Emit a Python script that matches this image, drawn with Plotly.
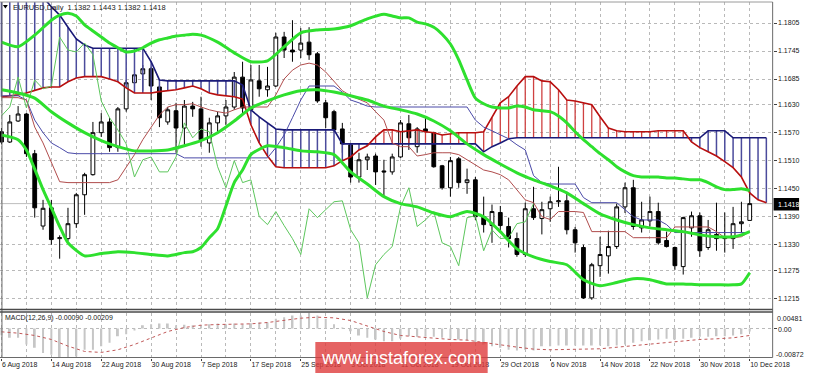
import plotly.graph_objects as go

W, H = 820, 373

# ---------------- data ----------------
date_labels = ["6 Aug 2018", "14 Aug 2018", "22 Aug 2018", "30 Aug 2018", "7 Sep 2018",
               "17 Sep 2018", "25 Sep 2018", "3 Oct 2018", "11 Oct 2018", "19 Oct 2018",
               "29 Oct 2018", "6 Nov 2018", "14 Nov 2018", "22 Nov 2018", "30 Nov 2018",
               "10 Dec 2018"]
label_bars = [0, 6, 12, 18, 24, 30, 36, 42, 48, 54, 60, 66, 72, 78, 84, 90]

price_ticks = [1.1805, 1.1745, 1.1685, 1.1630, 1.1570, 1.1510, 1.1450, 1.1390, 1.1330, 1.1275, 1.1215]

open_ = [1.1572, 1.1550, 1.1595, 1.1610, 1.1525, 1.1370, 1.1409, 1.1343, 1.1343, 1.1375,
         1.1437, 1.1480, 1.1570, 1.1593, 1.1538, 1.1621, 1.1677, 1.1696, 1.1707, 1.1668,
         1.1593, 1.1617, 1.1580, 1.1627, 1.1621, 1.1548, 1.1591, 1.1606, 1.1625, 1.1689,
         1.1619, 1.1681, 1.1662, 1.1670, 1.1775, 1.1747, 1.1747, 1.1764, 1.1739, 1.1634,
         1.1615, 1.1578, 1.1544, 1.1475, 1.1512, 1.1520, 1.1488, 1.1486, 1.1518, 1.1589,
         1.1540, 1.1578, 1.1570, 1.1499, 1.1452, 1.1514, 1.1463, 1.1469, 1.1390, 1.1371,
         1.1399, 1.1369, 1.1343, 1.1309, 1.1407, 1.1386, 1.1407, 1.1422, 1.1424, 1.1362,
         1.1324, 1.1216, 1.1285, 1.1306, 1.1326, 1.1411, 1.1452, 1.1366, 1.1381, 1.1401,
         1.1339, 1.1324, 1.1283, 1.1366, 1.1392, 1.1324, 1.1352, 1.1343, 1.1343, 1.1375,
         1.1382]
high = [1.1580, 1.1608, 1.1627, 1.1612, 1.1533, 1.1426, 1.1426, 1.1350, 1.1409, 1.1441,
        1.1484, 1.1593, 1.1612, 1.1602, 1.1625, 1.1683, 1.1704, 1.1715, 1.1711, 1.1672,
        1.1625, 1.1634, 1.1640, 1.1636, 1.1647, 1.1602, 1.1615, 1.1640, 1.1700, 1.1722,
        1.1715, 1.1715, 1.1711, 1.1784, 1.1786, 1.1811, 1.1794, 1.1796, 1.1743, 1.1640,
        1.1619, 1.1591, 1.1548, 1.1527, 1.1525, 1.1525, 1.1512, 1.1525, 1.1597, 1.1608,
        1.1582, 1.1602, 1.1572, 1.1501, 1.1518, 1.1518, 1.1493, 1.1475, 1.1433, 1.1416,
        1.1413, 1.1388, 1.1356, 1.1420, 1.1454, 1.1422, 1.1433, 1.1497, 1.1443, 1.1368,
        1.1330, 1.1291, 1.1347, 1.1360, 1.1418, 1.1463, 1.1469, 1.1422, 1.1433, 1.1420,
        1.1358, 1.1326, 1.1390, 1.1401, 1.1399, 1.1383, 1.1420, 1.1399, 1.1411, 1.1422,
        1.1443]
low = [1.1545, 1.1548, 1.1593, 1.1518, 1.1388, 1.1362, 1.1330, 1.1300, 1.1338, 1.1366,
       1.1394, 1.1478, 1.1561, 1.1529, 1.1529, 1.1615, 1.1655, 1.1660, 1.1640, 1.1582,
       1.1587, 1.1527, 1.1544, 1.1604, 1.1540, 1.1527, 1.1572, 1.1587, 1.1619, 1.1612,
       1.1615, 1.1647, 1.1647, 1.1668, 1.1730, 1.1722, 1.1730, 1.1726, 1.1634, 1.1580,
       1.1570, 1.1527, 1.1463, 1.1463, 1.1490, 1.1458, 1.1433, 1.1480, 1.1516, 1.1533,
       1.1527, 1.1570, 1.1495, 1.1448, 1.1433, 1.1452, 1.1439, 1.1383, 1.1356, 1.1334,
       1.1356, 1.1324, 1.1304, 1.1304, 1.1383, 1.1352, 1.1379, 1.1411, 1.1352, 1.1313,
       1.1214, 1.1212, 1.1261, 1.1268, 1.1321, 1.1398, 1.1362, 1.1356, 1.1369, 1.1330,
       1.1324, 1.1276, 1.1266, 1.1347, 1.1304, 1.1319, 1.1317, 1.1313, 1.1321, 1.1356,
       1.1382]
close = [1.1550, 1.1593, 1.1610, 1.1525, 1.1409, 1.1408, 1.1341, 1.1345, 1.1375, 1.1437,
         1.1480, 1.1570, 1.1593, 1.1538, 1.1621, 1.1677, 1.1694, 1.1707, 1.1670, 1.1602,
         1.1619, 1.1580, 1.1627, 1.1621, 1.1555, 1.1591, 1.1606, 1.1625, 1.1689, 1.1623,
         1.1683, 1.1664, 1.1670, 1.1775, 1.1747, 1.1743, 1.1762, 1.1737, 1.1638, 1.1602,
         1.1576, 1.1546, 1.1475, 1.1512, 1.1518, 1.1486, 1.1486, 1.1518, 1.1591, 1.1559,
         1.1578, 1.1572, 1.1497, 1.1452, 1.1510, 1.1463, 1.1469, 1.1390, 1.1373, 1.1401,
         1.1371, 1.1343, 1.1309, 1.1407, 1.1388, 1.1405, 1.1422, 1.1424, 1.1362, 1.1334,
         1.1216, 1.1287, 1.1309, 1.1326, 1.1411, 1.1452, 1.1369, 1.1383, 1.1401, 1.1334,
         1.1326, 1.1285, 1.1388, 1.1392, 1.1317, 1.1362, 1.1343, 1.1345, 1.1375, 1.1379,
         1.1418]
bars = list(range(len(close)))

# Bollinger bands (bar index, price)
bb_up_bars = [0, 2, 4, 6, 7, 8, 9, 10, 11, 12, 13, 14, 15, 16, 17, 18, 19, 20, 21, 22, 23,
              24, 26, 28, 30, 32, 34, 36, 38, 40, 42, 44, 46, 47, 48, 49, 50, 51, 52, 53, 54,
              55, 56, 57, 58, 59, 60, 61, 62, 63, 64, 65, 66, 67, 68, 69, 70, 71, 72, 73, 74,
              75, 76, 77, 78, 79, 80, 81, 82, 83, 84, 85, 86, 87, 88, 89, 90]
bb_up_vals = [1.1764, 1.1754, 1.1779, 1.1811, 1.1822, 1.1826, 1.1820, 1.1801, 1.1788, 1.1775,
              1.1762, 1.1752, 1.1743, 1.1745, 1.1752, 1.1762, 1.1769, 1.1773, 1.1777, 1.1779,
              1.1781, 1.1779, 1.1764, 1.1741, 1.1722, 1.1724, 1.1754, 1.1784, 1.1790, 1.1792,
              1.1799, 1.1814, 1.1824, 1.1820, 1.1816, 1.1816, 1.1807, 1.1803, 1.1796, 1.1781,
              1.1760, 1.1726, 1.1683, 1.1644, 1.1632, 1.1625, 1.1623, 1.1623, 1.1627, 1.1625,
              1.1619, 1.1617, 1.1615, 1.1606, 1.1591, 1.1572, 1.1555, 1.1540, 1.1525, 1.1512,
              1.1497, 1.1486, 1.1478, 1.1475, 1.1475, 1.1475, 1.1473, 1.1473, 1.1471, 1.1469,
              1.1469, 1.1463, 1.1454, 1.1448, 1.1448, 1.1450, 1.1446]
bb_mid_bars = [0, 2, 4, 6, 8, 10, 12, 14, 16, 18, 20, 22, 24, 26, 28, 30, 32, 34, 36, 38, 40,
               42, 44, 46, 48, 50, 52, 54, 56, 58, 60, 62, 64, 66, 68, 70, 72, 74, 76, 78, 80,
               82, 84, 86, 88, 89, 90]
bb_mid_vals = [1.1662, 1.1655, 1.1644, 1.1615, 1.1591, 1.1570, 1.1553, 1.1540, 1.1531, 1.1531,
               1.1533, 1.1542, 1.1553, 1.1570, 1.1595, 1.1623, 1.1638, 1.1651, 1.1660, 1.1662,
               1.1657, 1.1649, 1.1640, 1.1627, 1.1619, 1.1610, 1.1595, 1.1574, 1.1546, 1.1523,
               1.1503, 1.1484, 1.1469, 1.1456, 1.1441, 1.1418, 1.1396, 1.1383, 1.1373, 1.1366,
               1.1362, 1.1358, 1.1351, 1.1347, 1.1347, 1.1351, 1.1358]
bb_low_bars = [0, 2, 3, 4, 5, 6, 7, 8, 10, 12, 14, 16, 18, 20, 22, 23, 24, 25, 26, 27, 28, 29,
               30, 32, 34, 36, 38, 40, 42, 44, 46, 48, 50, 52, 54, 56, 58, 60, 62, 64, 66, 68,
               70, 72, 74, 76, 78, 80, 82, 84, 86, 88, 89, 90]
bb_low_vals = [1.1565, 1.1555, 1.1533, 1.1492, 1.1448, 1.1409, 1.1369, 1.1334, 1.1306, 1.1311,
               1.1315, 1.1313, 1.1309, 1.1306, 1.1313, 1.1315, 1.1324, 1.1345, 1.1364, 1.1413,
               1.1463, 1.1490, 1.1523, 1.1542, 1.1538, 1.1531, 1.1529, 1.1523, 1.1486, 1.1460,
               1.1433, 1.1418, 1.1411, 1.1398, 1.1390, 1.1401, 1.1390, 1.1358, 1.1321, 1.1304,
               1.1294, 1.1287, 1.1255, 1.1242, 1.1249, 1.1257, 1.1255, 1.1246, 1.1246, 1.1244,
               1.1244, 1.1244, 1.1246, 1.1270]

# Ichimoku
span_a = [1.1647, 1.1649, 1.1651, 1.1655, 1.1660, 1.1666, 1.1668, 1.1668, 1.1679, 1.1687,
          1.1690, 1.1690, 1.1690, 1.1685, 1.1679, 1.1666, 1.1655, 1.1655, 1.1655, 1.1658,
          1.1660, 1.1662, 1.1666, 1.1670, 1.1664, 1.1655, 1.1651, 1.1649, 1.1647, 1.1642,
          1.1587, 1.1548, 1.1520, 1.1497, 1.1495, 1.1495, 1.1495, 1.1495, 1.1495, 1.1495,
          1.1499, 1.1510, 1.1518, 1.1533, 1.1542, 1.1561, 1.1576, 1.1576, 1.1572, 1.1574,
          1.1576, 1.1572, 1.1570, 1.1565, 1.1567, 1.1570, 1.1570, 1.1570, 1.1572, 1.1602,
          1.1634, 1.1647, 1.1670, 1.1690, 1.1690, 1.1681, 1.1679, 1.1662, 1.1640, 1.1638,
          1.1634, 1.1630, 1.1604, 1.1580, 1.1574, 1.1572, 1.1572, 1.1572, 1.1572, 1.1574,
          1.1574, 1.1574, 1.1574, 1.1550, 1.1538, 1.1529, 1.1520, 1.1508, 1.1495, 1.1475,
          1.1441, 1.1426, 1.1420]
span_b = [1.1860, 1.1860, 1.1860, 1.1860, 1.1860, 1.1860, 1.1840, 1.1822, 1.1796, 1.1771,
          1.1758, 1.1751, 1.1751, 1.1751, 1.1751, 1.1751, 1.1751, 1.1751, 1.1722, 1.1683,
          1.1681, 1.1681, 1.1681, 1.1681, 1.1681, 1.1681, 1.1681, 1.1681, 1.1681, 1.1672,
          1.1619, 1.1604, 1.1591, 1.1578, 1.1576, 1.1576, 1.1576, 1.1576, 1.1576, 1.1576,
          1.1576, 1.1546, 1.1546, 1.1546, 1.1546, 1.1546, 1.1546, 1.1546, 1.1546, 1.1546,
          1.1546, 1.1546, 1.1546, 1.1546, 1.1546, 1.1546, 1.1546, 1.1546, 1.1529, 1.1540,
          1.1548, 1.1557, 1.1559, 1.1559, 1.1559, 1.1559, 1.1559, 1.1559, 1.1559, 1.1559,
          1.1559, 1.1559, 1.1559, 1.1559, 1.1559, 1.1559, 1.1559, 1.1559, 1.1559, 1.1559,
          1.1559, 1.1559, 1.1559, 1.1559, 1.1559, 1.1574, 1.1574, 1.1574, 1.1559, 1.1559,
          1.1559, 1.1559, 1.1559]
tenkan = [1.1645, 1.1645, 1.1645, 1.1640, 1.1582, 1.1548, 1.1505, 1.1465, 1.1463, 1.1463,
          1.1463, 1.1463, 1.1463, 1.1463, 1.1469, 1.1495, 1.1523, 1.1555, 1.1582, 1.1608,
          1.1625, 1.1630, 1.1630, 1.1632, 1.1625, 1.1619, 1.1615, 1.1612, 1.1619, 1.1625,
          1.1625, 1.1625, 1.1625, 1.1651, 1.1685, 1.1704, 1.1715, 1.1719, 1.1715, 1.1700,
          1.1679, 1.1660, 1.1649, 1.1642, 1.1634, 1.1615, 1.1597, 1.1548, 1.1540, 1.1540,
          1.1520, 1.1523, 1.1527, 1.1527, 1.1527, 1.1523, 1.1512, 1.1501, 1.1490, 1.1486,
          1.1480, 1.1469, 1.1448, 1.1426, 1.1420, 1.1390, 1.1384, 1.1401, 1.1401, 1.1401,
          1.1399, 1.1358, 1.1358, 1.1358, 1.1358, 1.1358, 1.1345, 1.1345, 1.1345, 1.1345,
          1.1345, 1.1368, 1.1368, 1.1368, 1.1368, 1.1368, 1.1358, 1.1345, 1.1345, 1.1347,
          1.1358]
kijun = [1.1649, 1.1649, 1.1649, 1.1640, 1.1597, 1.1570, 1.1548, 1.1538, 1.1527, 1.1525,
         1.1525, 1.1525, 1.1525, 1.1525, 1.1525, 1.1525, 1.1525, 1.1525, 1.1525, 1.1525,
         1.1525, 1.1525, 1.1516, 1.1516, 1.1516, 1.1516, 1.1516, 1.1516, 1.1516, 1.1516,
         1.1516, 1.1516, 1.1516, 1.1538, 1.1565, 1.1602, 1.1640, 1.1670, 1.1670, 1.1670,
         1.1670, 1.1657, 1.1640, 1.1634, 1.1627, 1.1625, 1.1625, 1.1625, 1.1625, 1.1625,
         1.1625, 1.1625, 1.1625, 1.1625, 1.1625, 1.1625, 1.1625, 1.1597, 1.1582, 1.1574,
         1.1565, 1.1557, 1.1544, 1.1533, 1.1478, 1.1463, 1.1460, 1.1460, 1.1460, 1.1460,
         1.1431, 1.1420, 1.1420, 1.1420, 1.1420, 1.1405, 1.1390, 1.1383, 1.1383, 1.1383,
         1.1373, 1.1356, 1.1356, 1.1356, 1.1356, 1.1356, 1.1356, 1.1356, 1.1356, 1.1356,
         1.1356]
chikou_shift = 26

# MACD (12,26,9)
macd_hist = [-0.0020, -0.0028, -0.0028, -0.0048, -0.0058, -0.0074, -0.0079, -0.0087, -0.0086, -0.0084,
             -0.0064, -0.0064, -0.0053, -0.0043, -0.0023, -0.0017, -0.0004, 0.0010, 0.0013, 0.0015,
             0.0015, 0.0010, 0.0011, 0.0010, 0.0010, 0.0013, 0.0015, 0.0013, 0.0015, 0.0013,
             0.0016, 0.0018, 0.0018, 0.0029, 0.0034, 0.0039, 0.0039, 0.0048, 0.0039, 0.0029,
             0.0013, 0.0002, -0.0008, -0.0021, -0.0028, -0.0033, -0.0038, -0.0038, -0.0030, -0.0023,
             -0.0025, -0.0025, -0.0025, -0.0028, -0.0031, -0.0033, -0.0035, -0.0041, -0.0048, -0.0053,
             -0.0058, -0.0064, -0.0066, -0.0064, -0.0066, -0.0053, -0.0053, -0.0051, -0.0051, -0.0051,
             -0.0051, -0.0051, -0.0051, -0.0053, -0.0051, -0.0048, -0.0043, -0.0038, -0.0035, -0.0033,
             -0.0031, -0.0033, -0.0031, -0.0028, -0.0025, -0.0025, -0.0023, -0.0023, -0.0021, -0.0017,
             -0.0009]
signal_bars = [0, 2, 4, 6, 8, 10, 12, 14, 16, 18, 20, 22, 24, 26, 28, 30, 32, 34, 36, 38, 40, 42,
               44, 46, 48, 50, 52, 54, 56, 58, 60, 62, 64, 66, 68, 70, 72, 74, 76, 78, 80, 82, 84,
               86, 88, 90]
signal_vals = [-0.0010, -0.0014, -0.0021, -0.0033, -0.0053, -0.0069, -0.0072, -0.0064, -0.0048, -0.0028,
               -0.0009, 0.0003, 0.0010, 0.0012, 0.0013, 0.0014, 0.0018, 0.0024, 0.0031, 0.0034,
               0.0032, 0.0024, 0.0008, -0.0009, -0.0021, -0.0025, -0.0031, -0.0033, -0.0035, -0.0041,
               -0.0049, -0.0056, -0.0062, -0.0064, -0.0062, -0.0062, -0.0061, -0.0056, -0.0051, -0.0048,
               -0.0043, -0.0038, -0.0033, -0.0031, -0.0028, -0.0021]
macd_min, macd_max = -0.00872, 0.00481

title_text = "EURUSD,Daily  1.1382 1.1443 1.1382 1.1418"
macd_text = "MACD(12,26,9) -0.00090 -0.00209"

# ---------------- geometry helpers (pixels -> paper) ----------------
def px(x):
    return x / W

def py(y):
    return 1 - y / H

X_RIGHT = 789.0
MAIN_TOP, MAIN_BOT = 2.0, 309.0
MACD_TOP, MACD_BOT = 312.5, 357.5
x_range = [-0.1767, 92.757]
y_range = [1.11922, 1.18500]

FONT = "Liberation Sans, Arial, sans-serif"
GRID = "#b9b9b9"

fig = go.Figure()

# Ichimoku cloud hatches
hx_r, hy_r, hx_b, hy_b = [], [], [], []
for i, (a, b) in enumerate(zip(span_a, span_b)):
    if a >= b:
        hx_r += [i, i, None]; hy_r += [a, b, None]
    else:
        hx_b += [i, i, None]; hy_b += [a, b, None]
cloud_bars = list(range(len(span_a)))
fig.add_trace(go.Scatter(x=hx_b, y=hy_b, mode="lines", line=dict(color="#4b4b9c", width=1.5),
                         hoverinfo="skip", xaxis="x", yaxis="y"))
fig.add_trace(go.Scatter(x=hx_r, y=hy_r, mode="lines", line=dict(color="#cf4040", width=1.3),
                         hoverinfo="skip", xaxis="x", yaxis="y"))
fig.add_trace(go.Scatter(x=cloud_bars, y=span_b, mode="lines", line=dict(color="#1a1a78", width=1.6),
                         xaxis="x", yaxis="y"))
fig.add_trace(go.Scatter(x=cloud_bars, y=span_a, mode="lines", line=dict(color="#b80f0f", width=1.6),
                         xaxis="x", yaxis="y"))

# Candles
fig.add_trace(go.Candlestick(
    x=bars, open=open_, high=high, low=low, close=close,
    increasing=dict(line=dict(color="black", width=1), fillcolor="white"),
    decreasing=dict(line=dict(color="black", width=1), fillcolor="black"),
    whiskerwidth=0, xaxis="x", yaxis="y"))

# Tenkan / Kijun / Chikou
fig.add_trace(go.Scatter(x=bars, y=kijun, mode="lines", line=dict(color="#4a4aa8", width=1),
                         xaxis="x", yaxis="y"))
fig.add_trace(go.Scatter(x=bars, y=tenkan, mode="lines", line=dict(color="#b04c4c", width=1),
                         xaxis="x", yaxis="y"))
fig.add_trace(go.Scatter(x=[b - chikou_shift for b in bars[chikou_shift:]], y=close[chikou_shift:],
                         mode="lines", line=dict(color="#5cc65c", width=1), xaxis="x", yaxis="y"))

# Bollinger bands
for bx, by in ((bb_up_bars, bb_up_vals), (bb_mid_bars, bb_mid_vals), (bb_low_bars, bb_low_vals)):
    fig.add_trace(go.Scatter(x=bx, y=by, mode="lines",
                             line=dict(color="#2ee02e", width=3, shape="spline", smoothing=0.6),
                             xaxis="x", yaxis="y"))

# MACD
fig.add_trace(go.Bar(x=bars, y=macd_hist, width=0.24, marker=dict(color="#c6c6c6", line=dict(width=0)),
                     xaxis="x2", yaxis="y2"))
fig.add_trace(go.Scatter(x=signal_bars, y=signal_vals, mode="lines",
                         line=dict(color="#c05858", width=1, dash="dot"), xaxis="x2", yaxis="y2"))

shapes = []
# bid line
shapes.append(dict(type="line", xref="x", yref="y", x0=x_range[0], x1=x_range[1],
                   y0=close[-1], y1=close[-1], line=dict(color="#bdbdbd", width=1), layer="between"))
# frames
frame_col = "#6a6a6a"
shapes += [
    dict(type="line", xref="paper", yref="paper", x0=px(0), x1=px(X_RIGHT), y0=py(MAIN_TOP), y1=py(MAIN_TOP),
         line=dict(color="#9a9a9a", width=1)),
    dict(type="line", xref="paper", yref="paper", x0=px(2), x1=px(2), y0=py(MAIN_TOP), y1=py(MACD_BOT),
         line=dict(color=frame_col, width=1)),
    dict(type="line", xref="paper", yref="paper", x0=px(X_RIGHT), x1=px(X_RIGHT), y0=py(MAIN_TOP), y1=py(MACD_BOT),
         line=dict(color=frame_col, width=1)),
    dict(type="line", xref="paper", yref="paper", x0=px(0), x1=px(X_RIGHT), y0=py(309.5), y1=py(309.5),
         line=dict(color="#4a4a4a", width=1.5)),
    dict(type="line", xref="paper", yref="paper", x0=px(0), x1=px(X_RIGHT), y0=py(312), y1=py(312),
         line=dict(color="#4a4a4a", width=1.5)),
    dict(type="line", xref="paper", yref="paper", x0=px(0), x1=px(X_RIGHT), y0=py(MACD_BOT), y1=py(MACD_BOT),
         line=dict(color=frame_col, width=1)),
]
# bid price box
shapes.append(dict(type="rect", xref="paper", yref="paper", x0=px(790), x1=px(816), y0=py(210.5), y1=py(198),
                   fillcolor="black", line=dict(width=0), layer="above"))
# small triangle near title
shapes.append(dict(type="path", xref="paper", yref="paper",
                   path=f"M {px(3)} {py(5)} L {px(8)} {py(5)} L {px(5.5)} {py(8.5)} Z",
                   fillcolor="black", line=dict(width=0), layer="above"))
# watermark box
shapes.append(dict(type="rect", xref="paper", yref="paper", x0=px(322), x1=px(498), y0=py(373), y1=py(342),
                   fillcolor="rgba(222,60,60,0.80)", line=dict(width=0), layer="above"))

annotations = [
    dict(text=title_text, xref="paper", yref="paper", x=px(11), y=py(7.5), xanchor="left", yanchor="middle",
         showarrow=False, font=dict(family=FONT, size=7.5, color="#202020")),
    dict(text=macd_text, xref="paper", yref="paper", x=px(3), y=py(318), xanchor="left", yanchor="middle",
         showarrow=False, font=dict(family=FONT, size=7, color="#202020")),
    dict(text="%.4f" % close[-1], xref="paper", yref="paper", x=px(792), y=py(204.5), xanchor="left",
         yanchor="middle", showarrow=False, font=dict(family=FONT, size=7, color="white")),
    dict(text="%.5f" % macd_max, xref="paper", yref="paper", x=px(791), y=py(318), xanchor="left",
         yanchor="middle", showarrow=False, font=dict(family=FONT, size=7, color="#202020")),
    dict(text="0.00", xref="paper", yref="paper", x=px(792), y=py(329), xanchor="left",
         yanchor="middle", showarrow=False, font=dict(family=FONT, size=7, color="#202020")),
    dict(text="%.5f" % macd_min, xref="paper", yref="paper", x=px(790), y=py(354), xanchor="left",
         yanchor="middle", showarrow=False, font=dict(family=FONT, size=7, color="#202020")),
    dict(text="www.instaforex.com", xref="paper", yref="paper", x=px(410), y=py(358), xanchor="center",
         yanchor="middle", showarrow=False, font=dict(family=FONT, size=18, color="white")),
]

fig.update_layout(
    width=W, height=H, margin=dict(l=0, r=0, t=0, b=0), autosize=False,
    paper_bgcolor="white", plot_bgcolor="white", showlegend=False,
    boxgap=0.35,
    xaxis=dict(domain=[0, px(X_RIGHT)], range=x_range, anchor="y", showticklabels=False, ticks="",
               tickmode="array", tickvals=list(range(0, 93, 3)), showgrid=True, gridcolor=GRID,
               griddash="dot", gridwidth=1, zeroline=False, showline=False,
               rangeslider=dict(visible=False), fixedrange=True),
    yaxis=dict(domain=[py(MAIN_BOT), py(MAIN_TOP)], range=y_range, anchor="x", side="right",
               tickmode="array", tickvals=price_ticks, tickformat=".4f", ticks="outside", ticklen=3,
               tickcolor="#404040", tickfont=dict(family=FONT, size=7, color="#202020"),
               showgrid=True, gridcolor=GRID, griddash="dot", gridwidth=1, zeroline=False,
               showline=False, fixedrange=True),
    xaxis2=dict(domain=[0, px(X_RIGHT)], range=x_range, anchor="y2", tickmode="array",
                tickvals=label_bars, ticktext=date_labels, ticklabelposition="outside right",
                ticks="outside", ticklen=2, tickcolor="#404040",
                tickfont=dict(family=FONT, size=7, color="#202020"),
                showgrid=True, gridcolor=GRID, griddash="dot", gridwidth=1,
                minor=dict(tickvals=[b + 3 for b in label_bars], showgrid=True, gridcolor=GRID,
                           griddash="dot", gridwidth=1, ticks=""),
                zeroline=False, showline=False, fixedrange=True),
    yaxis2=dict(domain=[py(MACD_BOT), py(MACD_TOP)], range=[macd_min, macd_max], anchor="x2", side="right",
                tickmode="array", tickvals=[0], showticklabels=False, ticks="outside", ticklen=3,
                tickcolor="#404040", showgrid=True, gridcolor=GRID, griddash="dot", zeroline=False,
                showline=False, fixedrange=True),
    shapes=shapes, annotations=annotations,
)

fig.write_html("out.html")
